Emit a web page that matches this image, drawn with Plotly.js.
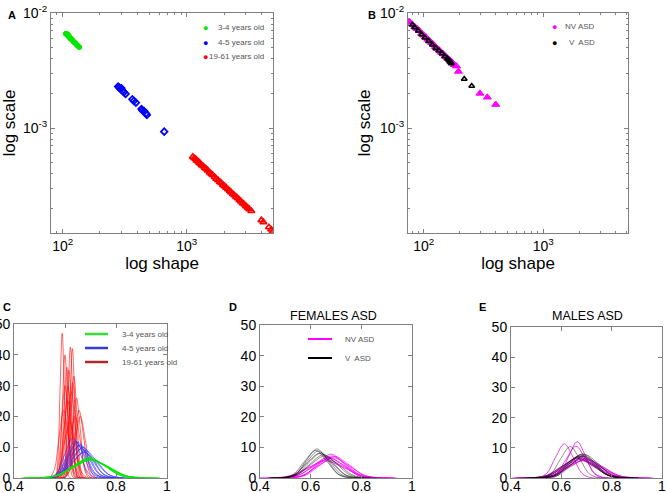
<!DOCTYPE html>
<html>
<head>
<meta charset="utf-8">
<script src="https://cdn.plot.ly/plotly-3.0.1.min.js"></script>
<style>html,body{margin:0;padding:0;background:#fff;}#plot{width:667px;height:493px;}</style>
</head>
<body>
<div id="plot"></div>
<script>
// ---------- Panel A : shape / scale by age group ----------
const greenShape = [106,108,109,110,112,113,115,117,120,123,127,131,136];
const greenScale = [6.6e-3,6.55e-3,6.45e-3,6.5e-3,6.3e-3,6.2e-3,6.05e-3,5.95e-3,5.8e-3,5.6e-3,5.45e-3,5.25e-3,5.05e-3];
const blueShape = [280,285,292,298,305,312,322,365,375,390,432,440,455,470,478,659];
const blueScale = [2.30e-3,2.25e-3,2.18e-3,2.22e-3,2.10e-3,2.05e-3,1.98e-3,1.78e-3,1.72e-3,1.66e-3,1.46e-3,1.42e-3,1.40e-3,1.34e-3,1.30e-3,9.3e-4];
const redShape = [1120,1150,1180,1200,1230,1260,1290,1320,1360,1400,1440,1480,1530,1580,1620,1680,1730,1790,1850,1900,1960,2020,2080,2150,2220,2280,2350,2420,2500,2580,2660,2740,2830,2920,3010,3100,3200,3320,4000,4150,4600,4800,4950];
const redScale = [5.62e-4,5.45e-4,5.40e-4,5.22e-4,5.15e-4,5.0e-4,4.9e-4,4.75e-4,4.65e-4,4.5e-4,4.4e-4,4.28e-4,4.1e-4,3.98e-4,3.9e-4,3.75e-4,3.62e-4,3.52e-4,3.4e-4,3.32e-4,3.2e-4,3.12e-4,3.03e-4,2.93e-4,2.85e-4,2.76e-4,2.68e-4,2.6e-4,2.52e-4,2.45e-4,2.37e-4,2.3e-4,2.22e-4,2.16e-4,2.09e-4,2.03e-4,1.97e-4,1.9e-4,1.58e-4,1.52e-4,1.37e-4,1.31e-4,1.26e-4];

// ---------- Panel B : NV ASD vs V ASD ----------
const nvShape = [76,80,84,88,92,96,100,104,108,112,116,120,125,130,135,140,146,152,158,165,172,180,188,195,295,340,400];
const nvScale = [8.4e-3,8.0e-3,7.6e-3,7.3e-3,7.0e-3,6.65e-3,6.4e-3,6.2e-3,5.9e-3,5.7e-3,5.5e-3,5.35e-3,5.1e-3,4.9e-3,4.75e-3,4.55e-3,4.4e-3,4.2e-3,4.05e-3,3.9e-3,3.75e-3,3.55e-3,3.45e-3,3.1e-3,2.0e-3,1.85e-3,1.6e-3];
const vShape = [80,84,90,96,102,110,118,126,134,142,150,158,162,165,168,170,218,252];
const vScale = [7.9e-3,7.5e-3,7.0e-3,6.5e-3,6.1e-3,5.7e-3,5.3e-3,4.95e-3,4.7e-3,4.45e-3,4.2e-3,4.0e-3,3.9e-3,3.8e-3,3.72e-3,3.65e-3,2.67e-3,2.32e-3];

const logShapeTicks = [100, 1000];
const logShapeText = ['10<sup>2</sup>','10<sup>3</sup>'];
const logScaleTicks = [0.001, 0.01];
const logScaleText = ['10<sup>-3</sup>','10<sup>-2</sup>'];

// ---------- Panel C : densities by age group ----------
const redCurveX = [
 [0.555,0.5635,0.572,0.5805,0.589,0.5975,0.606,0.6145,0.623],
 [0.591,0.6005,0.610,0.6195,0.629,0.6385,0.648,0.6575,0.667],
 [0.583,0.5925,0.602,0.6115,0.621,0.6305,0.640,0.6495,0.659],
 [0.563,0.574,0.585,0.596,0.607,0.618,0.629,0.640,0.651],
 [0.569,0.5805,0.592,0.6035,0.615,0.6265,0.638,0.6495,0.661],
 [0.548,0.561,0.574,0.587,0.600,0.613,0.626,0.639,0.652],
 [0.587,0.599,0.611,0.623,0.635,0.647,0.659,0.671,0.683],
 [0.569,0.583,0.597,0.611,0.625,0.639,0.653,0.667,0.681],
 [0.547,0.563,0.579,0.595,0.611,0.627,0.643,0.659,0.675],
 [0.585,0.600,0.615,0.630,0.645,0.660,0.675,0.690,0.705],
 [0.523,0.541,0.559,0.577,0.595,0.613,0.631,0.649,0.667],
 [0.560,0.580,0.600,0.620,0.640,0.660,0.680,0.700,0.720],
 [0.583,0.601,0.619,0.637,0.655,0.673,0.691,0.709,0.727],
 [0.530,0.552,0.574,0.596,0.618,0.640,0.662,0.684,0.706],
 [0.560,0.570,0.580,0.590,0.600,0.610,0.620,0.630,0.640],
 [0.580,0.5925,0.605,0.6175,0.630,0.6425,0.655,0.6675,0.680],
 [0.560,0.573,0.586,0.599,0.612,0.625,0.638,0.651,0.664],
 [0.580,0.600,0.620,0.640,0.660,0.680,0.700,0.720,0.740]
];
const redCurveY = [
 [0,0.5,6.3,28.5,47,28.5,6.3,0.5,0],
 [0,0.5,5.7,25.5,42,25.5,5.7,0.5,0],
 [0,0.5,5.7,25.8,42.5,25.8,5.7,0.5,0],
 [0,0.4,4.9,21.9,36,21.9,4.9,0.4,0],
 [0,0.4,4.7,21.2,35,21.2,4.7,0.4,0],
 [0,0.3,4.1,18.2,30,18.2,4.1,0.3,0],
 [0,0.4,4.5,20,33,20,4.5,0.4,0],
 [0,0.3,3.8,17,28,17,3.8,0.3,0],
 [0,0.3,3.4,15.2,25,15.2,3.4,0.3,0],
 [0,0.3,3.5,15.8,26,15.8,3.5,0.3,0],
 [0,0.2,3,13.4,22,13.4,3,0.2,0],
 [0,0.2,2.7,12.1,20,12.1,2.7,0.2,0],
 [0,0.2,3,13.4,22,13.4,3,0.2,0],
 [0,0.2,2.4,10.9,18,10.9,2.4,0.2,0],
 [0,0.4,5.4,24.3,40,24.3,5.4,0.4,0],
 [0,0.3,4.2,18.8,31,18.8,4.2,0.3,0],
 [0,0.3,4.1,18.2,30,18.2,4.1,0.3,0],
 [0,0.2,2.7,12.1,20,12.1,2.7,0.2,0]
];
const blueCurveX = [
 [0.508,0.541,0.574,0.607,0.640,0.673,0.706,0.739,0.772],
 [0.514,0.548,0.582,0.616,0.650,0.684,0.718,0.752,0.786],
 [0.512,0.549,0.586,0.623,0.660,0.697,0.734,0.771,0.808],
 [0.510,0.550,0.590,0.630,0.670,0.710,0.750,0.790,0.830],
 [0.500,0.545,0.590,0.635,0.680,0.725,0.770,0.815,0.860],
 [0.505,0.540,0.575,0.610,0.645,0.680,0.715,0.750,0.785],
 [0.503,0.541,0.579,0.617,0.655,0.693,0.731,0.769,0.807],
 [0.497,0.539,0.581,0.623,0.665,0.707,0.749,0.791,0.833],
 [0.510,0.540,0.570,0.600,0.630,0.660,0.690,0.720,0.750],
 [0.483,0.531,0.579,0.627,0.675,0.723,0.771,0.819,0.867]
];
const blueCurveY = [
 [0,0.13,1.6,7.3,12,7.3,1.6,0.13,0],
 [0,0.13,1.6,7.1,11.7,7.1,1.6,0.13,0],
 [0,0.12,1.5,6.6,10.8,6.6,1.5,0.12,0],
 [0,0.11,1.35,6.1,10,6.1,1.35,0.11,0],
 [0,0.1,1.2,5.4,8.9,5.4,1.2,0.1,0],
 [0,0.13,1.5,6.9,11.4,6.9,1.5,0.13,0],
 [0,0.12,1.4,6.4,10.5,6.4,1.4,0.12,0],
 [0,0.1,1.3,5.8,9.5,5.8,1.3,0.1,0],
 [0,0.14,1.8,7.9,13,7.9,1.8,0.14,0],
 [0,0.09,1.1,5,8.3,5,1.1,0.09,0]
];
const greenCurveX = [
 [0.428,0.496,0.564,0.632,0.700,0.768,0.836,0.904,0.972],
 [0.441,0.505,0.569,0.633,0.697,0.761,0.825,0.889,0.953],
 [0.455,0.515,0.575,0.635,0.695,0.755,0.815,0.875,0.935],
 [0.439,0.505,0.571,0.637,0.703,0.769,0.835,0.901,0.967]
];
const greenCurveY = [
 [0,0.06,0.8,3.6,5.9,3.6,0.8,0.06,0],
 [0,0.07,0.84,3.8,6.2,3.8,0.84,0.07,0],
 [0,0.07,0.9,4,6.6,4,0.9,0.07,0],
 [0,0.07,0.81,3.6,6,3.6,0.81,0.07,0]
];

// ---------- Panel D : females ASD ----------
const femVX = [
 [0.457,0.499,0.541,0.583,0.625,0.667,0.709,0.751,0.793],
 [0.450,0.495,0.540,0.585,0.630,0.675,0.720,0.765,0.810],
 [0.448,0.496,0.544,0.592,0.640,0.688,0.736,0.784,0.832],
 [0.442,0.494,0.546,0.598,0.650,0.702,0.754,0.806,0.858],
 [0.435,0.485,0.535,0.585,0.635,0.685,0.735,0.785,0.835],
 [0.444,0.488,0.532,0.576,0.620,0.664,0.708,0.752,0.796],
 [0.435,0.490,0.545,0.600,0.655,0.710,0.765,0.820,0.875]
];
const femVY = [
 [0,0.1,1.28,5.77,9.5,5.77,1.28,0.1,0],
 [0,0.1,1.19,5.34,8.8,5.34,1.19,0.1,0],
 [0,0.09,1.11,4.98,8.2,4.98,1.11,0.09,0],
 [0,0.08,1.03,4.61,7.6,4.61,1.03,0.08,0],
 [0,0.09,1.08,4.86,8,4.86,1.08,0.09,0],
 [0,0.1,1.22,5.46,9,5.46,1.22,0.1,0],
 [0,0.08,0.97,4.37,7.2,4.37,0.97,0.08,0]
];
const femNVX = [
 [0.476,0.527,0.578,0.629,0.680,0.731,0.782,0.833,0.884],
 [0.465,0.520,0.575,0.630,0.685,0.740,0.795,0.850,0.905],
 [0.438,0.496,0.554,0.612,0.670,0.728,0.786,0.844,0.902],
 [0.450,0.510,0.570,0.630,0.690,0.750,0.810,0.870,0.930],
 [0.427,0.489,0.551,0.613,0.675,0.737,0.799,0.861,0.923],
 [0.401,0.467,0.533,0.599,0.665,0.731,0.797,0.863,0.929],
 [0.467,0.524,0.581,0.638,0.695,0.752,0.809,0.866,0.923],
 [0.380,0.450,0.520,0.590,0.660,0.730,0.800,0.870,0.940]
];
const femNVY = [
 [0,0.09,1.05,4.73,7.8,4.73,1.05,0.09,0],
 [0,0.08,0.97,4.37,7.2,4.37,0.97,0.08,0],
 [0,0.07,0.92,4.13,6.8,4.13,0.92,0.07,0],
 [0,0.07,0.89,4.01,6.6,4.01,0.89,0.07,0],
 [0,0.07,0.86,3.88,6.4,3.88,0.86,0.07,0],
 [0,0.07,0.81,3.64,6,3.64,0.81,0.07,0],
 [0,0.08,0.95,4.25,7,4.25,0.95,0.08,0],
 [0,0.06,0.76,3.4,5.6,3.4,0.76,0.06,0]
];

// ---------- Panel E : males ASD ----------
const malNVX = [
 [0.472,0.507,0.542,0.577,0.612,0.647,0.682,0.717,0.752],
 [0.531,0.564,0.597,0.630,0.663,0.696,0.729,0.762,0.795],
 [0.506,0.544,0.582,0.620,0.658,0.696,0.734,0.772,0.810],
 [0.460,0.515,0.570,0.625,0.680,0.735,0.790,0.845,0.900],
 [0.450,0.510,0.570,0.630,0.690,0.750,0.810,0.870,0.930],
 [0.415,0.480,0.545,0.610,0.675,0.740,0.805,0.870,0.935],
 [0.405,0.475,0.545,0.615,0.685,0.755,0.825,0.895,0.965],
 [0.438,0.496,0.554,0.612,0.670,0.728,0.786,0.844,0.902],
 [0.431,0.497,0.563,0.629,0.695,0.761,0.827,0.893,0.959],
 [0.417,0.479,0.541,0.603,0.665,0.727,0.789,0.851,0.913],
 [0.448,0.511,0.574,0.637,0.700,0.763,0.826,0.889,0.952]
];
const malNVY = [
 [0,0.12,1.53,6.86,11.3,6.86,1.53,0.12,0],
 [0,0.13,1.62,7.28,12,7.28,1.62,0.13,0],
 [0,0.12,1.42,6.37,10.5,6.37,1.42,0.12,0],
 [0,0.08,0.97,4.37,7.2,4.37,0.97,0.08,0],
 [0,0.07,0.89,4.01,6.6,4.01,0.89,0.07,0],
 [0,0.07,0.82,3.7,6.1,3.7,0.82,0.07,0],
 [0,0.06,0.77,3.46,5.7,3.46,0.77,0.06,0],
 [0,0.08,0.93,4.19,6.9,4.19,0.93,0.08,0],
 [0,0.07,0.81,3.64,6,3.64,0.81,0.07,0],
 [0,0.07,0.86,3.88,6.4,3.88,0.86,0.07,0],
 [0,0.07,0.85,3.82,6.3,3.82,0.85,0.07,0]
];
const malVX = [
 [0.483,0.521,0.559,0.597,0.635,0.673,0.711,0.749,0.787],
 [0.476,0.527,0.578,0.629,0.680,0.731,0.782,0.833,0.884],
 [0.463,0.516,0.569,0.622,0.675,0.728,0.781,0.834,0.887],
 [0.485,0.535,0.585,0.635,0.685,0.735,0.785,0.835,0.885],
 [0.446,0.502,0.558,0.614,0.670,0.726,0.782,0.838,0.894],
 [0.470,0.525,0.580,0.635,0.690,0.745,0.800,0.855,0.910],
 [0.425,0.485,0.545,0.605,0.665,0.725,0.785,0.845,0.905],
 [0.487,0.539,0.591,0.643,0.695,0.747,0.799,0.851,0.903]
];
const malVY = [
 [0,0.11,1.4,6.31,10.4,6.31,1.4,0.11,0],
 [0,0.09,1.05,4.73,7.8,4.73,1.05,0.09,0],
 [0,0.08,1.01,4.55,7.5,4.55,1.01,0.08,0],
 [0,0.09,1.08,4.86,8,4.86,1.08,0.09,0],
 [0,0.08,0.96,4.31,7.1,4.31,0.96,0.08,0],
 [0,0.08,0.97,4.37,7.2,4.37,0.97,0.08,0],
 [0,0.07,0.89,4.01,6.6,4.01,0.89,0.07,0],
 [0,0.08,1.04,4.67,7.7,4.67,1.04,0.08,0]
];

const ageLabels = ['3-4 years old','4-5 years old','19-61 years old'];
const groupLabels = ['NV ASD','V  ASD'];
const panelLetters = ['A','B','C','D','E'];
const panelTitles = ['FEMALES ASD','MALES ASD'];

// ---------- build traces ----------
const traces = [];
function scatterTrace(x, y, xa, ya, color, symbol, size, lw) {
  traces.push({type:'scatter', mode:'markers', x:x, y:y, xaxis:xa, yaxis:ya, showlegend:false, hoverinfo:'skip',
    marker:{color:color, symbol:symbol, size:size, line:{color:color, width:lw}}});
}
function curveTraces(X, Y, xa, ya, color, width) {
  X.forEach(function(xs, i){
    traces.push({type:'scatter', mode:'lines', x:xs, y:Y[i], xaxis:xa, yaxis:ya, showlegend:false, hoverinfo:'skip',
      line:{color:color, width:width, shape:'spline', smoothing:1}});
  });
}

// A
scatterTrace(greenShape, greenScale, 'x', 'y', '#00e600', 'circle', 5, 1);
scatterTrace(blueShape, blueScale, 'x', 'y', '#0000ff', 'diamond-open', 5, 1.8);
scatterTrace(redShape, redScale, 'x', 'y', '#ff0000', 'triangle-up-open', 6, 1.6);
// B
scatterTrace(nvShape, nvScale, 'x2', 'y2', '#ff00ff', 'triangle-up', 7, 1);
scatterTrace(vShape, vScale, 'x2', 'y2', '#000000', 'triangle-up-open', 5, 1.6);
// C
curveTraces(redCurveX, redCurveY, 'x3', 'y3', 'rgba(255,0,0,0.75)', 0.8);
curveTraces(blueCurveX, blueCurveY, 'x3', 'y3', 'rgba(40,40,255,0.8)', 0.8);
curveTraces(greenCurveX, greenCurveY, 'x3', 'y3', 'rgba(0,230,0,0.9)', 1.2);
// D
curveTraces(femNVX, femNVY, 'x4', 'y4', 'rgba(255,0,255,0.8)', 0.9);
curveTraces(femVX, femVY, 'x4', 'y4', 'rgba(0,0,0,0.55)', 0.8);
// E
curveTraces(malNVX, malNVY, 'x5', 'y5', 'rgba(220,0,220,0.8)', 0.9);
curveTraces(malVX, malVY, 'x5', 'y5', 'rgba(0,0,0,0.55)', 0.8);

// ---------- layout ----------
const FONT = 'Liberation Sans, Arial, Helvetica, sans-serif';
const W = 667, H = 493;
function px(v) { return v / W; }
function py(v) { return 1 - v / H; }

const base = {showline:true, linecolor:'#808080', linewidth:1, mirror:'ticks', ticks:'inside', ticklen:4,
  tickcolor:'#808080', showgrid:false, zeroline:false, tickfont:{size:14, color:'#000', family:FONT}};
function logAx(extra) {
  return Object.assign({}, base, {type:'log', tickmode:'array',
    minor:{ticks:'inside', ticklen:2, tickcolor:'#808080', dtick:'D1', showgrid:false}}, extra);
}
function linX(extra) {
  return Object.assign({}, base, {range:[0.4,1], tickmode:'linear', tick0:0.4, dtick:0.2, ticklabelstandoff:-5}, extra);
}
function linY(extra) {
  return Object.assign({}, base, {range:[0,50], tickmode:'linear', tick0:0, dtick:10}, extra);
}
const titleFont = {size:17, color:'#000', family:FONT};

const annotations = [];
const shapes = [];
function note(text, x, y, size, color, xanchor) {
  annotations.push({text:text, xref:'paper', yref:'paper', x:px(x), y:py(y), showarrow:false,
    xanchor:xanchor || 'center', yanchor:'middle', font:{size:size, family:FONT, color:color}});
}
// panel letters and titles
const letterPos = [[12,15],[372,15],[7,307],[233,307],[482,307]];
panelLetters.forEach(function(t, i){ note('<b>'+t+'</b>', letterPos[i][0], letterPos[i][1], 11, '#000'); });
note(panelTitles[0], 333, 316, 12.5, '#000');
note(panelTitles[1], 587, 316, 12.5, '#000');

// legend A (markers)
const legAColors = ['#00e600','#0000ff','#ff0000'];
[28,43,57].forEach(function(yy, i){
  note('●', 205, yy, 9, legAColors[i]);
  note(ageLabels[i], 266, yy, 8, '#555', 'right');
});
// legend B (markers)
const legBColors = ['#ff00ff','#000000'];
[27,43].forEach(function(yy, i){
  note('●', 554, yy, 9, legBColors[i]);
  note(groupLabels[i], 597, yy, 8, '#555', 'right');
});
// legend C (lines)
const legCColors = ['#33dd33','#3a3acc','#b02828'];
[334,348,362].forEach(function(yy, i){
  shapes.push({type:'line', xref:'paper', yref:'paper', x0:px(85), x1:px(108), y0:py(yy), y1:py(yy), line:{color:legCColors[i], width:2.5}});
  note(ageLabels[i], 120, yy, 8, '#555', 'left');
});
// legend D (lines)
const legDColors = ['#ff00ff','#000000'];
[339,358].forEach(function(yy, i){
  shapes.push({type:'line', xref:'paper', yref:'paper', x0:px(308), x1:px(332), y0:py(yy), y1:py(yy), line:{color:legDColors[i], width:2}});
  note(groupLabels[i], 343, yy, 8, '#555', 'left');
});

const layout = {
  width:W, height:H, margin:{l:0, r:0, t:0, b:0}, paper_bgcolor:'#fff', plot_bgcolor:'#fff',
  font:{family:FONT}, showlegend:false, hovermode:false,
  xaxis: logAx({domain:[px(51),px(273)], range:[1.906,3.696], anchor:'y', tickvals:logShapeTicks, ticktext:logShapeText, title:{text:'log shape', font:titleFont, standoff:4}}),
  yaxis: logAx({domain:[py(233),py(13)], range:[-3.913,-2], anchor:'x', tickvals:logScaleTicks, ticktext:logScaleText, title:{text:'log scale', font:titleFont, standoff:4}}),
  xaxis2: logAx({domain:[px(408),px(628)], range:[1.868,3.709], anchor:'y2', tickvals:logShapeTicks, ticktext:logShapeText, title:{text:'log shape', font:titleFont, standoff:4}}),
  yaxis2: logAx({domain:[py(233),py(13)], range:[-3.913,-2], anchor:'x2', tickvals:logScaleTicks, ticktext:logScaleText, title:{text:'log scale', font:titleFont, standoff:4}}),
  xaxis3: linX({domain:[px(14),px(167)], anchor:'y3'}),
  yaxis3: linY({domain:[py(478),py(324)], anchor:'x3'}),
  xaxis4: linX({domain:[px(260),px(412)], anchor:'y4'}),
  yaxis4: linY({domain:[py(478),py(325)], anchor:'x4'}),
  xaxis5: linX({domain:[px(511),px(662)], anchor:'y5'}),
  yaxis5: linY({domain:[py(478),py(327)], anchor:'x5'}),
  annotations: annotations,
  shapes: shapes
};

Plotly.newPlot('plot', traces, layout, {displayModeBar:false, staticPlot:true});
</script>
</body>
</html>
